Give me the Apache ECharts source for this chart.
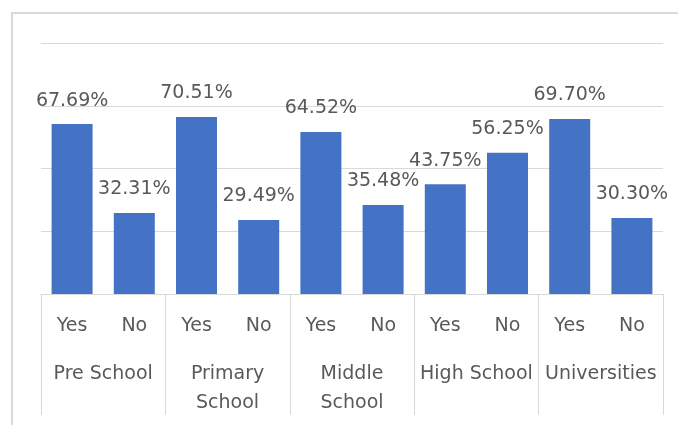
<!DOCTYPE html>
<html>
<head>
<meta charset="utf-8">
<script src="https://cdn.jsdelivr.net/npm/echarts@6/dist/echarts.min.js"></script>
<style>
html,body{margin:0;padding:0;background:#fff;}
#chart{width:678px;height:425px;}
</style>
</head>
<body>
<div id="chart"></div>
<script>
var groups = ['Pre School', 'Primary\nSchool', 'Middle\nSchool', 'High School', 'Universities'];
var answers = ['Yes', 'No'];
var values = [67.69, 32.31, 70.51, 29.49, 64.52, 35.48, 43.75, 56.25, 69.70, 30.30];
var yTicks = [0, 25, 50, 75, 100];

var categories = [];
groups.forEach(function () { answers.forEach(function (a) { categories.push(a); }); });

var FONT = 'DejaVu Sans';
var TXT = '#595959';
var LINE = '#d9d9d9';

var chart = echarts.init(document.getElementById('chart'), null, {renderer: 'canvas'});
chart.setOption({
  animation: false,
  backgroundColor: '#fff',
  graphic: [{
    type: 'rect',
    shape: {x: 12, y: 13, width: 700, height: 450},
    style: {fill: 'none', stroke: LINE, lineWidth: 2},
    silent: true
  }],
  grid: {left: 41, right: 15, top: 43, bottom: 131, containLabel: false},
  xAxis: [{
    type: 'category',
    data: categories,
    position: 'bottom',
    axisLine: {show: true, lineStyle: {color: LINE, width: 1}},
    axisTick: {show: false},
    axisLabel: {interval: 0, margin: 22, color: TXT, fontFamily: FONT, fontSize: 19, lineHeight: 20}
  }, {
    type: 'category',
    data: groups,
    position: 'bottom',
    axisLine: {show: false},
    axisTick: {show: true, length: 121, lineStyle: {color: LINE, width: 1}},
    axisLabel: {interval: 0, margin: 66, color: TXT, fontFamily: FONT, fontSize: 19, lineHeight: 29}
  }],
  yAxis: {
    type: 'value',
    min: yTicks[0],
    max: yTicks[yTicks.length - 1],
    interval: yTicks[1] - yTicks[0],
    axisLine: {show: false},
    axisTick: {show: false},
    axisLabel: {show: false},
    splitLine: {lineStyle: {color: LINE, width: 1}}
  },
  series: [{
    type: 'bar',
    xAxisIndex: 0,
    data: values,
    barWidth: 41,
    itemStyle: {color: '#4472C4'},
    label: {
      show: true,
      position: 'top',
      distance: 14,
      color: TXT,
      fontFamily: FONT,
      fontSize: 19,
      formatter: function (p) { return p.value.toFixed(2) + '%'; }
    }
  }]
});
</script>
</body>
</html>
